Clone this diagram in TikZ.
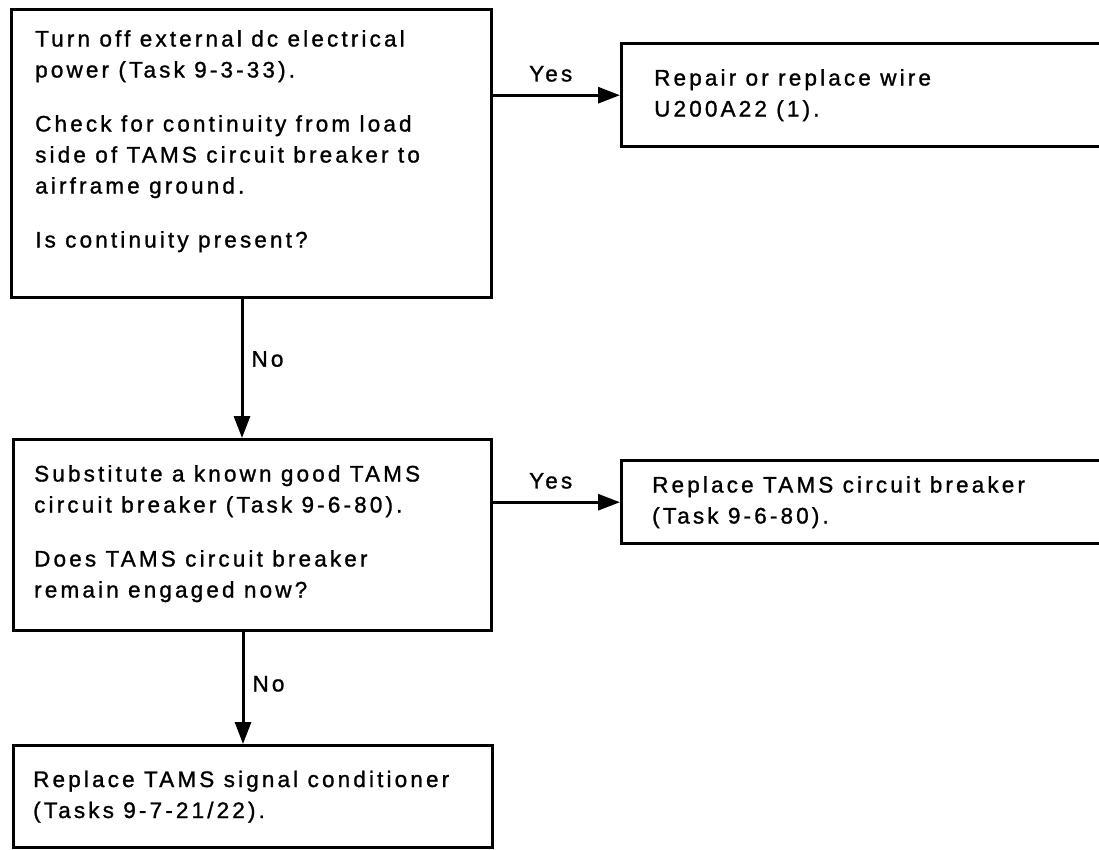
\documentclass[tikz,border=0pt]{standalone}
\usepackage{fontspec}
\setmainfont{Liberation Sans}[LetterSpace=14, FakeBold=1.2]
\usetikzlibrary{arrows.meta, positioning, calc}

\begin{document}
\begin{tikzpicture}[
  x=1pt, y=-1pt,
  font=\fontsize{22.5}{31}\selectfont,
  arrow/.style={-{Triangle[length=22pt, width=16pt]}, line width=3pt},
  box/.style={draw, line width=3.4pt, anchor=north west, inner sep=0pt},
  txt/.style={align=left, inner sep=0pt},
  lbl/.style={inner sep=2pt}
]
\useasboundingbox (0,0) rectangle (1099,849);

% =========================
% Boxes
% =========================
\node[box, minimum width=480pt, minimum height=288pt] (check) at (10,8) {};
\node[box, minimum width=495pt, minimum height=103pt] (repair) at (620,42) {};
\node[box, minimum width=478pt, minimum height=191pt] (subst) at (12,438) {};
\node[box, minimum width=495pt, minimum height=83pt] (replcb) at (620,459) {};
\node[box, minimum width=479pt, minimum height=102pt] (replsc) at (12,744) {};

% texts
\node[txt, anchor=north west] (checktxt) at ($(check.north west)+(25,22)$) {
Turn off external dc electrical\\
power (Task 9-3-33).\\[23pt]
Check for continuity from load\\
side of TAMS circuit breaker to\\
airframe ground.\\[23pt]
Is continuity present?
};
\node[txt, anchor=west] (repairtxt) at ($(repair.west)+(34,0)$) {
Repair or replace wire\\
U200A22 (1).
};
\node[txt, anchor=north west] (substtxt) at ($(subst.north west)+(22,27)$) {
Substitute a known good TAMS\\
circuit breaker (Task 9-6-80).\\[23pt]
Does TAMS circuit breaker\\
remain engaged now?
};
\node[txt, anchor=west] (replcbtxt) at ($(replcb.west)+(32,0)$) {
Replace TAMS circuit breaker\\
(Task 9-6-80).
};
\node[txt, anchor=west] (replsctxt) at ($(replsc.west)+(21,0)$) {
Replace TAMS signal conditioner\\
(Tasks 9-7-21/22).
};

% =========================
% Connectors
% =========================
\draw[arrow] (repair.west -| check.east) -- node[lbl, above=10pt, xshift=-6pt] (yes1) {Yes} (repair.west);
\draw[arrow] (replcb.west -| subst.east) -- node[lbl, above=10pt, xshift=-6pt] (yes2) {Yes} (replcb.west);

\draw[arrow] ($(check.south west)+(232,0)$) coordinate (down1)
  -- node[lbl, right=6pt, pos=0.43] (no1) {No} (down1 |- subst.north);
\draw[arrow] ($(subst.south west)+(231,0)$) coordinate (down2)
  -- node[lbl, right=6pt, pos=0.46] (no2) {No} (down2 |- replsc.north);

\end{tikzpicture}
\end{document}
